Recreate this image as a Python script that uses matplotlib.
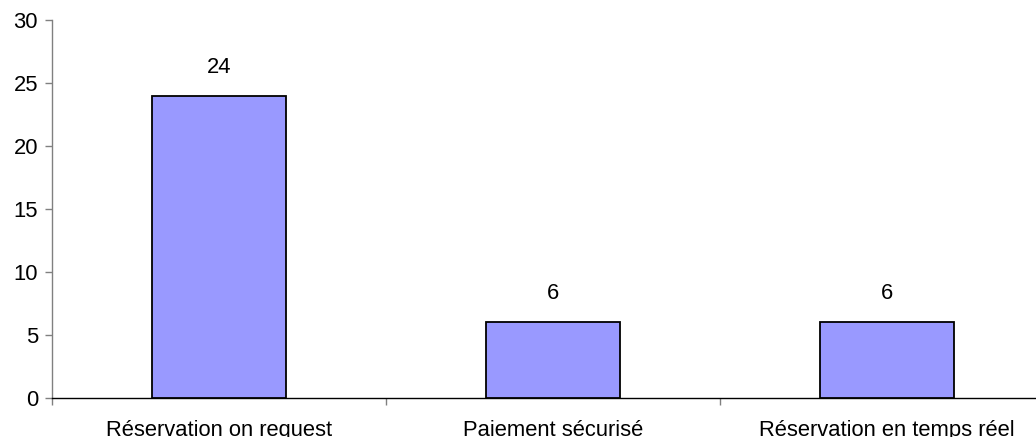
import matplotlib
matplotlib.use("Agg")
import matplotlib.pyplot as plt

categories = ["Réservation on request", "Paiement sécurisé", "Réservation en temps réel"]
values = [24, 6, 6]
yticks = [0, 5, 10, 15, 20, 25, 30]

plt.rcParams['font.family'] = ['Liberation Sans', 'DejaVu Sans']

fig = plt.figure(figsize=(10.36, 4.37), dpi=100)
ax = fig.add_axes([52/1036, 39/437, 1002/1036, 378/437])

x = [i + 0.5 for i in range(len(categories))]
bars = ax.bar(x, values, width=0.4, color="#9999FF", edgecolor="black", linewidth=1.3, zorder=3)
for xi, v in zip(x, values):
    ax.annotate(str(v), (xi, v), xytext=(0, 13), textcoords="offset points",
                ha="center", va="bottom", fontsize=15.8)

ax.set_xlim(0, len(categories))
ax.set_ylim(0, 30)
ax.set_yticks(yticks)
ax.set_xticks(x)
ax.set_xticklabels(categories)
ax.set_xticks(range(len(categories) + 1), minor=True)
ax.tick_params(axis="x", which="major", length=0, pad=15.5, labelsize=15.8)
ax.tick_params(axis="x", which="minor", length=5, width=1, color="#808080")
ax.tick_params(axis="y", length=5, width=1, color="#808080", labelsize=15.8, pad=5)

ax.spines["top"].set_visible(False)
ax.spines["right"].set_visible(False)
ax.spines["left"].set_color("#808080")
ax.spines["bottom"].set_color("black")
ax.spines["left"].set_linewidth(1)
ax.spines["bottom"].set_linewidth(1)

fig.savefig("out.png", dpi=100)
